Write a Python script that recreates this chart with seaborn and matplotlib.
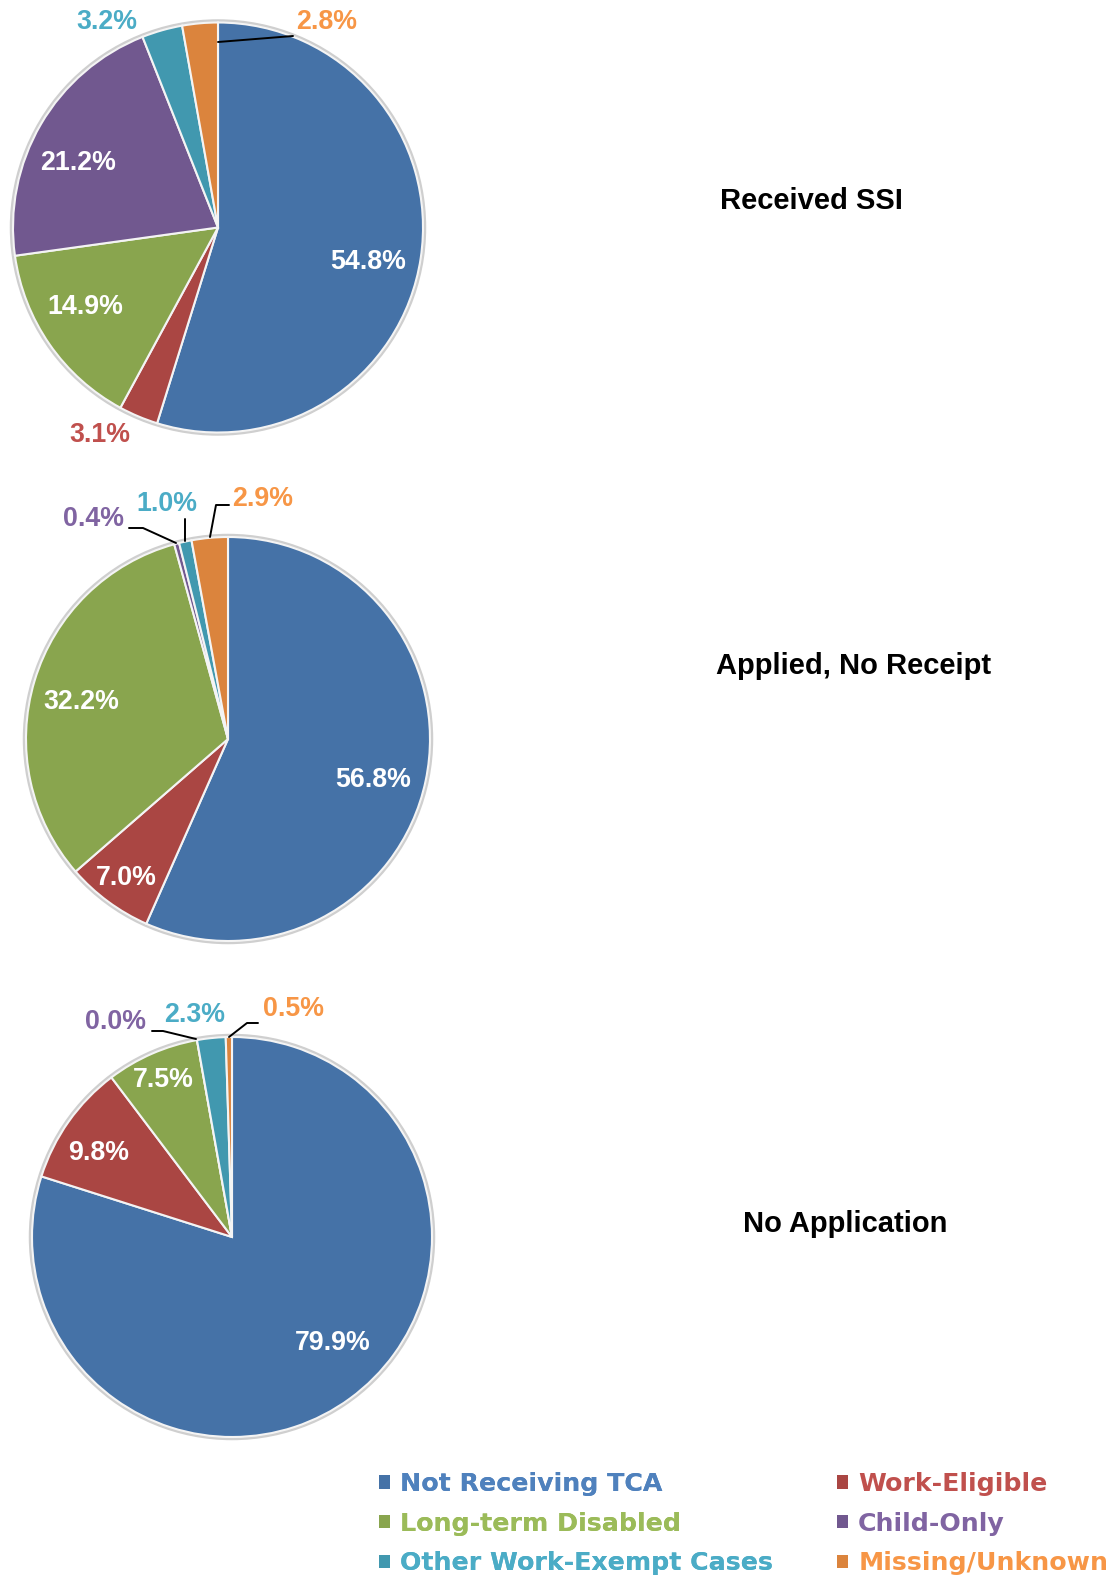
import matplotlib
matplotlib.use("Agg")
import matplotlib.pyplot as plt
import seaborn as sns
from matplotlib.patches import Circle, Patch

# ---------------- data ----------------
categories = ["Not Receiving TCA", "Work-Eligible", "Long-term Disabled",
              "Child-Only", "Other Work-Exempt Cases", "Missing/Unknown"]
received_ssi = [54.8, 3.1, 14.9, 21.2, 3.2, 2.8]
applied_no_receipt = [56.8, 7.0, 32.2, 0.4, 1.0, 2.9]
no_application = [79.9, 9.8, 7.5, 0.0, 2.3, 0.5]
panel_titles = ["Received SSI", "Applied, No Receipt", "No Application"]

wedge_colors = ["#4572A7", "#AA4643", "#89A54E", "#71588F", "#4198AF", "#DB843D"]
text_colors = ["#4F81BD", "#C0504D", "#9BBB59", "#8064A2", "#4BACC6", "#F79646"]

sns.set_theme(style="white")
plt.rcParams["font.family"] = ["Liberation Sans", "DejaVu Sans"]

W, H = 1112, 1576
fig = plt.figure(figsize=(W / 100, H / 100), dpi=100)
ax = fig.add_axes([0, 0, 1, 1])


def P(x, y):
    return x, H - y


# layout (pixel positions, top-left origin)
panels = [
    dict(values=received_ssi, center=(218, 227.5), radius=205,
         title_pos=(811, 201),
         label_pos=[(368, 262), (100, 435), (85, 307), (78, 163), (107, 22), (327, 22)],
         inside=[True, False, True, True, False, False],
         leaders=[[(218, 42), (293, 36)]]),
    dict(values=applied_no_receipt, center=(228, 739), radius=202,
         title_pos=(854, 666),
         label_pos=[(373, 780), (126, 878), (81, 702), (93, 519), (167, 504), (263, 499)],
         inside=[True, True, True, False, False, False],
         leaders=[[(129, 528), (143, 528), (176, 543)],
                  [(185, 519), (185, 541)],
                  [(229, 505), (216, 505), (210, 537)]]),
    dict(values=no_application, center=(232, 1237), radius=200,
         title_pos=(845, 1224),
         label_pos=[(333, 1343), (99, 1153), (163, 1080), (116, 1022), (195, 1015), (293, 1009)],
         inside=[True, True, True, False, False, False],
         leaders=[[(152, 1031), (163, 1031), (196, 1039)],
                  [(258, 1023), (247, 1023), (229, 1037)]]),
]

for panel, title in zip(panels, panel_titles):
    cx, cy = panel["center"]
    R = panel["radius"]
    ax.add_patch(Circle(P(cx, cy), R + 1.5, facecolor="none",
                        edgecolor="#cfcfcf", linewidth=2.5, zorder=0))
    ax.pie(panel["values"], colors=wedge_colors, startangle=90, counterclock=False,
           center=P(cx, cy), radius=R, normalize=True,
           wedgeprops=dict(edgecolor="#f4f4f4", linewidth=1.5))
    for val, pos, ins, tc in zip(panel["values"], panel["label_pos"],
                                 panel["inside"], text_colors):
        ax.text(*P(*pos), f"{val:.1f}%", ha="center", va="center",
                fontsize=19.3, fontweight="bold",
                color="white" if ins else tc, zorder=5)
    for pts in panel["leaders"]:
        xs = [p[0] for p in pts]
        ys = [H - p[1] for p in pts]
        ax.plot(xs, ys, color="black", linewidth=1.4, clip_on=False, zorder=4)
    ax.text(*P(*panel["title_pos"]), title, ha="center", va="center",
            fontsize=21, fontweight="bold", color="black")

ax.set_xlim(0, W)
ax.set_ylim(0, H)
ax.set_aspect("equal")
ax.axis("off")

# legend: two columns
handles = [Patch(facecolor=c, edgecolor="none") for c in wedge_colors]
col1 = [0, 2, 4]
col2 = [1, 3, 5]
leg_kw = dict(frameon=False, handlelength=0.44, handleheight=0.44,
              handletextpad=0.4, labelspacing=0.62, borderpad=0, borderaxespad=0,
              loc="upper left", prop=dict(family="DejaVu Sans", weight="bold", size=18.2))
leg1 = fig.legend([handles[i] for i in col1], [categories[i] for i in col1],
                  labelcolor=[text_colors[i] for i in col1],
                  bbox_to_anchor=(379 / W, 1 - 1472 / H), **leg_kw)
fig.add_artist(leg1)
leg2 = fig.legend([handles[i] for i in col2], [categories[i] for i in col2],
                  labelcolor=[text_colors[i] for i in col2],
                  bbox_to_anchor=(837 / W, 1 - 1472 / H), **leg_kw)

fig.savefig("out.png", dpi=100, facecolor="white")
